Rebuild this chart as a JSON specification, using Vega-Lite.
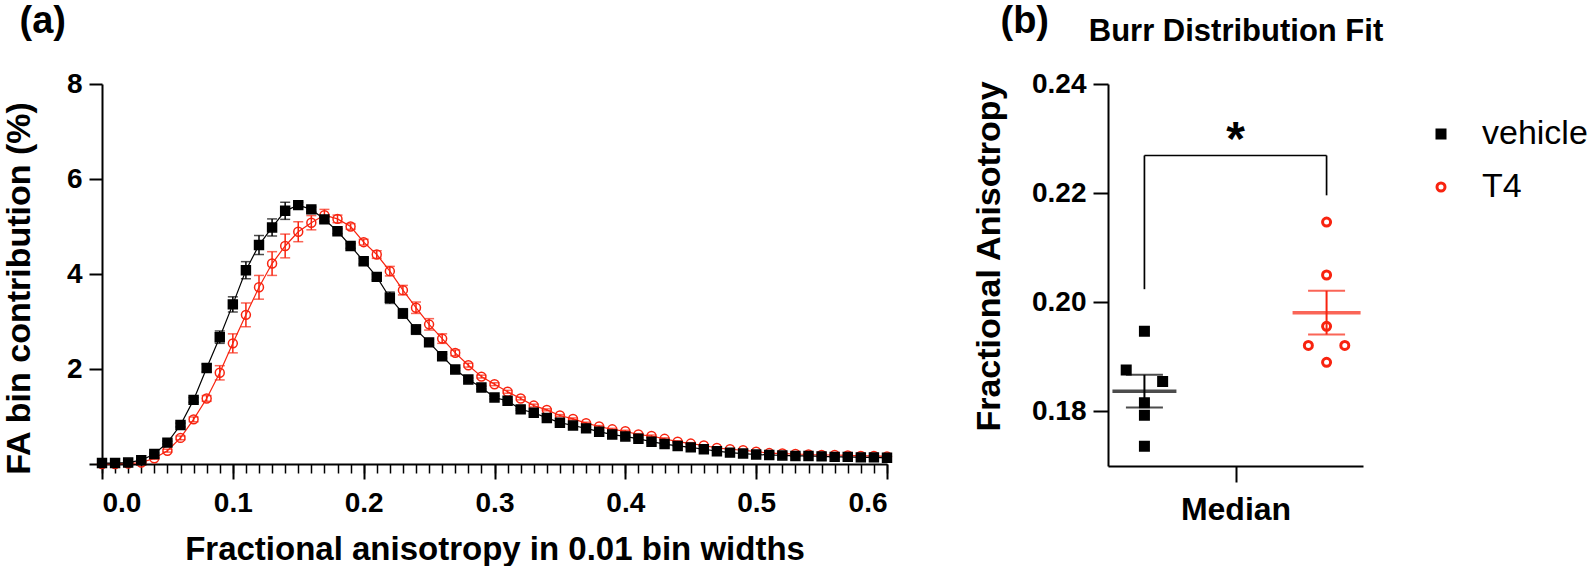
{
  "$schema": "https://vega.github.io/schema/vega-lite/v6.json",
  "background": "white",
  "padding": {"left": 1, "top": 2, "right": 0, "bottom": 0},
  "config": {
    "font": "Liberation Sans",
    "view": {"stroke": null},
    "axis": {"grid": false, "domainColor": "#000", "tickColor": "#000", "labelColor": "#000", "titleColor": "#000", "domainWidth": 2, "tickWidth": 2, "labelFontWeight": "bold", "titleFontWeight": "bold", "labelFontSize": 28, "labelFont": "Liberation Sans", "titleFont": "Liberation Sans"},
    "legend": {"labelFontSize": 34, "labelFontWeight": "normal", "labelColor": "#000", "symbolSize": 64, "symbolStrokeWidth": 3, "rowPadding": 19, "labelOffset": 24}
  },
  "datasets": {
    "curves": [
      {"fa":0.00,"group":"T4","mean":0.00,"sem":0},{"fa":0.01,"group":"T4","mean":0.00,"sem":0},{"fa":0.02,"group":"T4","mean":0.01,"sem":0},{"fa":0.03,"group":"T4","mean":0.03,"sem":0.01},{"fa":0.04,"group":"T4","mean":0.12,"sem":0.02},{"fa":0.05,"group":"T4","mean":0.28,"sem":0.03},{"fa":0.06,"group":"T4","mean":0.55,"sem":0.04},{"fa":0.07,"group":"T4","mean":0.94,"sem":0.05},{"fa":0.08,"group":"T4","mean":1.38,"sem":0.06},{"fa":0.09,"group":"T4","mean":1.92,"sem":0.15},{"fa":0.10,"group":"T4","mean":2.54,"sem":0.2},
      {"fa":0.11,"group":"T4","mean":3.14,"sem":0.25},{"fa":0.12,"group":"T4","mean":3.72,"sem":0.25},{"fa":0.13,"group":"T4","mean":4.22,"sem":0.25},{"fa":0.14,"group":"T4","mean":4.59,"sem":0.25},{"fa":0.15,"group":"T4","mean":4.89,"sem":0.21},{"fa":0.16,"group":"T4","mean":5.08,"sem":0.15},{"fa":0.17,"group":"T4","mean":5.24,"sem":0.12},{"fa":0.18,"group":"T4","mean":5.16,"sem":0.08},{"fa":0.19,"group":"T4","mean":5.00,"sem":0.06},{"fa":0.20,"group":"T4","mean":4.67,"sem":0.06},
      {"fa":0.21,"group":"T4","mean":4.41,"sem":0.08},{"fa":0.22,"group":"T4","mean":4.06,"sem":0.1},{"fa":0.23,"group":"T4","mean":3.66,"sem":0.1},{"fa":0.24,"group":"T4","mean":3.29,"sem":0.12},{"fa":0.25,"group":"T4","mean":2.94,"sem":0.12},{"fa":0.26,"group":"T4","mean":2.64,"sem":0.1},{"fa":0.27,"group":"T4","mean":2.34,"sem":0.06},{"fa":0.28,"group":"T4","mean":2.08,"sem":0.04},{"fa":0.29,"group":"T4","mean":1.84,"sem":0.03},{"fa":0.30,"group":"T4","mean":1.68,"sem":0.03},
      {"fa":0.31,"group":"T4","mean":1.52,"sem":0.03},{"fa":0.32,"group":"T4","mean":1.38,"sem":0.03},{"fa":0.33,"group":"T4","mean":1.23,"sem":0.03},{"fa":0.34,"group":"T4","mean":1.14,"sem":0.02},{"fa":0.35,"group":"T4","mean":1.02,"sem":0.02},{"fa":0.36,"group":"T4","mean":0.95,"sem":0.02},{"fa":0.37,"group":"T4","mean":0.86,"sem":0.02},{"fa":0.38,"group":"T4","mean":0.79,"sem":0.02},{"fa":0.39,"group":"T4","mean":0.73,"sem":0.02},{"fa":0.40,"group":"T4","mean":0.69,"sem":0.02},
      {"fa":0.41,"group":"T4","mean":0.62,"sem":0.02},{"fa":0.42,"group":"T4","mean":0.59,"sem":0.02},{"fa":0.43,"group":"T4","mean":0.53,"sem":0.02},{"fa":0.44,"group":"T4","mean":0.47,"sem":0.02},{"fa":0.45,"group":"T4","mean":0.43,"sem":0.02},{"fa":0.46,"group":"T4","mean":0.39,"sem":0.01},{"fa":0.47,"group":"T4","mean":0.34,"sem":0.01},{"fa":0.48,"group":"T4","mean":0.31,"sem":0.01},{"fa":0.49,"group":"T4","mean":0.29,"sem":0.01},{"fa":0.50,"group":"T4","mean":0.26,"sem":0.01},
      {"fa":0.51,"group":"T4","mean":0.23,"sem":0.01},{"fa":0.52,"group":"T4","mean":0.22,"sem":0.01},{"fa":0.53,"group":"T4","mean":0.21,"sem":0.01},{"fa":0.54,"group":"T4","mean":0.20,"sem":0.01},{"fa":0.55,"group":"T4","mean":0.19,"sem":0.01},{"fa":0.56,"group":"T4","mean":0.19,"sem":0.01},{"fa":0.57,"group":"T4","mean":0.18,"sem":0.01},{"fa":0.58,"group":"T4","mean":0.17,"sem":0.01},{"fa":0.59,"group":"T4","mean":0.17,"sem":0.01},{"fa":0.60,"group":"T4","mean":0.16,"sem":0.01},
      {"fa":0.00,"group":"vehicle","mean":0.02,"sem":0},{"fa":0.01,"group":"vehicle","mean":0.02,"sem":0},{"fa":0.02,"group":"vehicle","mean":0.03,"sem":0},{"fa":0.03,"group":"vehicle","mean":0.08,"sem":0.01},{"fa":0.04,"group":"vehicle","mean":0.21,"sem":0.02},{"fa":0.05,"group":"vehicle","mean":0.45,"sem":0.03},{"fa":0.06,"group":"vehicle","mean":0.82,"sem":0.04},{"fa":0.07,"group":"vehicle","mean":1.35,"sem":0.05},{"fa":0.08,"group":"vehicle","mean":2.02,"sem":0.08},{"fa":0.09,"group":"vehicle","mean":2.67,"sem":0.13},{"fa":0.10,"group":"vehicle","mean":3.36,"sem":0.16},
      {"fa":0.11,"group":"vehicle","mean":4.08,"sem":0.18},{"fa":0.12,"group":"vehicle","mean":4.61,"sem":0.2},{"fa":0.13,"group":"vehicle","mean":4.98,"sem":0.18},{"fa":0.14,"group":"vehicle","mean":5.33,"sem":0.18},{"fa":0.15,"group":"vehicle","mean":5.45,"sem":0.06},{"fa":0.16,"group":"vehicle","mean":5.36,"sem":0.05},{"fa":0.17,"group":"vehicle","mean":5.15,"sem":0.05},{"fa":0.18,"group":"vehicle","mean":4.90,"sem":0.05},{"fa":0.19,"group":"vehicle","mean":4.59,"sem":0.05},{"fa":0.20,"group":"vehicle","mean":4.27,"sem":0.06},
      {"fa":0.21,"group":"vehicle","mean":3.94,"sem":0.06},{"fa":0.22,"group":"vehicle","mean":3.50,"sem":0.12},{"fa":0.23,"group":"vehicle","mean":3.17,"sem":0.1},{"fa":0.24,"group":"vehicle","mean":2.83,"sem":0.1},{"fa":0.25,"group":"vehicle","mean":2.56,"sem":0.06},{"fa":0.26,"group":"vehicle","mean":2.27,"sem":0.04},{"fa":0.27,"group":"vehicle","mean":1.99,"sem":0.03},{"fa":0.28,"group":"vehicle","mean":1.78,"sem":0.03},{"fa":0.29,"group":"vehicle","mean":1.61,"sem":0.03},{"fa":0.30,"group":"vehicle","mean":1.40,"sem":0.03},
      {"fa":0.31,"group":"vehicle","mean":1.33,"sem":0.02},{"fa":0.32,"group":"vehicle","mean":1.15,"sem":0.02},{"fa":0.33,"group":"vehicle","mean":1.08,"sem":0.02},{"fa":0.34,"group":"vehicle","mean":0.97,"sem":0.02},{"fa":0.35,"group":"vehicle","mean":0.87,"sem":0.02},{"fa":0.36,"group":"vehicle","mean":0.81,"sem":0.02},{"fa":0.37,"group":"vehicle","mean":0.75,"sem":0.02},{"fa":0.38,"group":"vehicle","mean":0.68,"sem":0.02},{"fa":0.39,"group":"vehicle","mean":0.62,"sem":0.02},{"fa":0.40,"group":"vehicle","mean":0.58,"sem":0.02},
      {"fa":0.41,"group":"vehicle","mean":0.53,"sem":0.02},{"fa":0.42,"group":"vehicle","mean":0.47,"sem":0.02},{"fa":0.43,"group":"vehicle","mean":0.42,"sem":0.02},{"fa":0.44,"group":"vehicle","mean":0.38,"sem":0.01},{"fa":0.45,"group":"vehicle","mean":0.35,"sem":0.01},{"fa":0.46,"group":"vehicle","mean":0.31,"sem":0.01},{"fa":0.47,"group":"vehicle","mean":0.27,"sem":0.01},{"fa":0.48,"group":"vehicle","mean":0.24,"sem":0.01},{"fa":0.49,"group":"vehicle","mean":0.22,"sem":0.01},{"fa":0.50,"group":"vehicle","mean":0.20,"sem":0.01},
      {"fa":0.51,"group":"vehicle","mean":0.19,"sem":0.01},{"fa":0.52,"group":"vehicle","mean":0.18,"sem":0.01},{"fa":0.53,"group":"vehicle","mean":0.17,"sem":0.01},{"fa":0.54,"group":"vehicle","mean":0.17,"sem":0.01},{"fa":0.55,"group":"vehicle","mean":0.16,"sem":0.01},{"fa":0.56,"group":"vehicle","mean":0.15,"sem":0.01},{"fa":0.57,"group":"vehicle","mean":0.15,"sem":0.01},{"fa":0.58,"group":"vehicle","mean":0.14,"sem":0.01},{"fa":0.59,"group":"vehicle","mean":0.14,"sem":0.01},{"fa":0.60,"group":"vehicle","mean":0.13,"sem":0.01}
    ],
    "animals": [
      {"group":"vehicle","slot":"vehicle","fa":0.1947},
      {"group":"vehicle","slot":"vehicle_L","fa":0.1876},
      {"group":"vehicle","slot":"vehicle_R","fa":0.1855},
      {"group":"vehicle","slot":"vehicle","fa":0.1816},
      {"group":"vehicle","slot":"vehicle","fa":0.1793},
      {"group":"vehicle","slot":"vehicle","fa":0.1736},
      {"group":"T4","slot":"T4","fa":0.2147},
      {"group":"T4","slot":"T4","fa":0.2050},
      {"group":"T4","slot":"T4","fa":0.1956},
      {"group":"T4","slot":"T4_L","fa":0.1921},
      {"group":"T4","slot":"T4_R","fa":0.1921},
      {"group":"T4","slot":"T4","fa":0.1890}
    ],
    "summary": [
      {"group":"vehicle","mean":0.1837,"sem":0.0030},
      {"group":"T4","mean":0.1981,"sem":0.0040}
    ],
    "bracket": [
      {"from":"vehicle","to":"vehicle","lo":0.2024,"hi":0.2269},
      {"from":"vehicle","to":"T4","lo":0.2269,"hi":0.2269},
      {"from":"T4","to":"T4","lo":0.2196,"hi":0.2269}
    ],
    "annot": [
      {"slot":"Median","y":0.2269,"label":"*"}
    ]
  },
  "bounds": "flush",
  "spacing": 221,
  "hconcat": [
    {
      "width": 785,
      "height": 380,
      "resolve": {"axis": {"x": "independent"}},
      "layer": [
        {
          "data": {"name": "curves"},
          "transform": [{"filter": "datum.group === 'T4'"}],
          "mark": {"type": "line", "color": "#f8230f", "strokeWidth": 1.2},
          "encoding": {
            "x": {"field": "fa", "type": "quantitative", "scale": {"domain": [0, 0.6], "nice": false, "zero": false},
              "axis": {"orient": "bottom", "values": [0, 0.1, 0.2, 0.3, 0.4, 0.5, 0.6], "format": ".1f", "tickSize": 15, "labelPadding": 10, "title": "Fractional anisotropy in 0.01 bin widths", "titleFontSize": 33, "titleBaseline": "alphabetic", "titleY": 95}},
            "y": {"field": "mean", "type": "quantitative", "title": "FA bin contribution (%)", "scale": {"domain": [0, 8], "nice": false},
              "axis": {"values": [0, 2, 4, 6, 8], "labelExpr": "datum.value === 0 ? '' : datum.label", "tickSize": 13, "labelPadding": 7, "titleFontSize": 34, "titleBaseline": "alphabetic", "titleAngle": -90, "titleX": -73, "titleY": 204}}
          }
        },
        {
          "data": {"name": "curves"},
          "transform": [{"filter": "datum.group === 'vehicle'"}],
          "mark": {"type": "line", "color": "#000000", "strokeWidth": 1.2},
          "encoding": {
            "x": {"field": "fa", "type": "quantitative", "scale": {"domain": [0, 0.6], "nice": false, "zero": false},
              "axis": {"orient": "bottom", "tickCount": 60, "labels": false, "domain": false, "tickSize": 9, "tickWidth": 1.5, "title": null}},
            "y": {"field": "mean", "type": "quantitative", "title": "FA bin contribution (%)"}
          }
        },
        {
          "data": {"name": "curves"},
          "transform": [{"filter": "datum.group === 'T4'"}],
          "mark": {"type": "errorbar", "color": "#f8230f", "thickness": 1.5, "ticks": {"size": 10}},
          "encoding": {
            "x": {"field": "fa", "type": "quantitative", "axis": null},
            "y": {"field": "mean", "type": "quantitative", "title": "FA bin contribution (%)"},
            "yError": {"field": "sem"}
          }
        },
        {
          "data": {"name": "curves"},
          "transform": [{"filter": "datum.group === 'vehicle'"}],
          "mark": {"type": "errorbar", "color": "#000000", "thickness": 1.5, "ticks": {"size": 10}},
          "encoding": {
            "x": {"field": "fa", "type": "quantitative", "axis": null},
            "y": {"field": "mean", "type": "quantitative", "title": "FA bin contribution (%)"},
            "yError": {"field": "sem"}
          }
        },
        {
          "data": {"name": "curves"},
          "mark": {"type": "point", "size": 80, "strokeWidth": 1.5, "opacity": 1},
          "encoding": {
            "x": {"field": "fa", "type": "quantitative",
              "axis": {"orient": "top", "labels": false, "ticks": false, "domain": false, "title": "(a)", "titleFontSize": 38, "titleAlign": "left", "titleBaseline": "alphabetic", "titleAngle": 0, "titleX": -83, "titleY": -52}},
            "y": {"field": "mean", "type": "quantitative", "title": "FA bin contribution (%)"},
            "shape": {"field": "group", "type": "nominal", "scale": {"domain": ["vehicle", "T4"], "range": ["square", "circle"]}, "legend": {"title": null, "orient": "none", "legendX": 1322, "legendY": 33}},
            "fill": {"field": "group", "type": "nominal", "scale": {"domain": ["vehicle", "T4"], "range": ["#000000", "transparent"]}, "legend": {"title": null, "orient": "none", "legendX": 1322, "legendY": 33}},
            "stroke": {"field": "group", "type": "nominal", "scale": {"domain": ["vehicle", "T4"], "range": ["#000000", "#f8230f"]}, "legend": {"title": null, "orient": "none", "legendX": 1322, "legendY": 33}}
          }
        }
      ]
    },
    {
      "width": 255,
      "height": 382,
      "resolve": {"axis": {"x": "independent"}},
      "layer": [
        {
          "data": {"name": "animals"},
          "mark": {"type": "point", "size": 64, "strokeWidth": 3, "opacity": 1},
          "encoding": {
            "x": {"field": "slot", "type": "nominal", "scale": {"type": "point", "domain": ["vehicle_L", "vehicle", "vehicle_R", "g1", "g2", "g3", "Median", "g4", "g5", "g6", "T4_L", "T4", "T4_R"], "padding": 5.6},
              "axis": {"orient": "bottom", "values": ["Median"], "labelFontSize": 32, "labelAngle": 0, "tickSize": 16, "labelPadding": 12, "title": null}},
            "y": {"field": "fa", "type": "quantitative", "title": "Fractional Anisotropy", "scale": {"domain": [0.17, 0.24], "nice": false, "zero": false},
              "axis": {"values": [0.18, 0.2, 0.22, 0.24], "format": ".2f", "tickSize": 15, "labelPadding": 7, "titleFontSize": 34, "titleBaseline": "alphabetic", "titleAngle": -90, "titleX": -109, "titleY": 172}},
            "shape": {"field": "group", "type": "nominal", "scale": {"domain": ["vehicle", "T4"], "range": ["square", "circle"]}, "legend": {"title": null, "orient": "none", "legendX": 1322, "legendY": 33}},
            "fill": {"field": "group", "type": "nominal", "scale": {"domain": ["vehicle", "T4"], "range": ["#000000", "transparent"]}, "legend": {"title": null, "orient": "none", "legendX": 1322, "legendY": 33}},
            "stroke": {"field": "group", "type": "nominal", "scale": {"domain": ["vehicle", "T4"], "range": ["#000000", "#f8230f"]}, "legend": {"title": null, "orient": "none", "legendX": 1322, "legendY": 33}}
          }
        },
        {
          "data": {"name": "summary"},
          "transform": [{"filter": "datum.group === 'vehicle'"}],
          "mark": {"type": "tick", "color": "#000000", "thickness": 3.5, "size": 64, "orient": "horizontal"},
          "encoding": {
            "x": {"field": "group", "type": "nominal",
              "axis": {"orient": "top", "labels": false, "ticks": false, "domain": false, "title": "Burr Distribution Fit", "titleFontSize": 31, "titleAlign": "center", "titleBaseline": "alphabetic", "titleAngle": 0, "titleX": 127.5, "titleY": -44}},
            "y": {"field": "mean", "type": "quantitative", "title": "Fractional Anisotropy"}
          }
        },
        {
          "data": {"name": "summary"},
          "transform": [{"filter": "datum.group === 'T4'"}],
          "mark": {"type": "tick", "color": "#f8230f", "thickness": 3.5, "size": 68, "orient": "horizontal"},
          "encoding": {
            "x": {"field": "group", "type": "nominal", "axis": null},
            "y": {"field": "mean", "type": "quantitative", "title": "Fractional Anisotropy"}
          }
        },
        {
          "data": {"name": "summary"},
          "transform": [{"filter": "datum.group === 'vehicle'"}],
          "mark": {"type": "errorbar", "color": "#000000", "thickness": 2, "ticks": {"size": 37}},
          "encoding": {
            "x": {"field": "group", "type": "nominal",
              "axis": {"orient": "top", "labels": false, "ticks": false, "domain": false, "title": "(b)", "titleFontSize": 38, "titleAlign": "left", "titleBaseline": "alphabetic", "titleAngle": 0, "titleX": -108, "titleY": -52}},
            "y": {"field": "mean", "type": "quantitative", "title": "Fractional Anisotropy"},
            "yError": {"field": "sem"}
          }
        },
        {
          "data": {"name": "summary"},
          "transform": [{"filter": "datum.group === 'T4'"}],
          "mark": {"type": "errorbar", "color": "#f8230f", "thickness": 2, "ticks": {"size": 37}},
          "encoding": {
            "x": {"field": "group", "type": "nominal", "axis": null},
            "y": {"field": "mean", "type": "quantitative", "title": "Fractional Anisotropy"},
            "yError": {"field": "sem"}
          }
        },
        {
          "data": {"name": "bracket"},
          "mark": {"type": "rule", "color": "#000000", "strokeWidth": 1.7},
          "encoding": {
            "x": {"field": "from", "type": "nominal", "axis": null},
            "x2": {"field": "to"},
            "y": {"field": "lo", "type": "quantitative", "title": "Fractional Anisotropy"},
            "y2": {"field": "hi"}
          }
        },
        {
          "data": {"name": "annot"},
          "mark": {"type": "text", "fontSize": 48, "fontWeight": "bold", "baseline": "alphabetic", "align": "center", "color": "#000000"},
          "encoding": {
            "x": {"field": "slot", "type": "nominal", "axis": null},
            "y": {"field": "y", "type": "quantitative", "title": "Fractional Anisotropy"},
            "text": {"field": "label"}
          }
        }
      ]
    }
  ]
}
